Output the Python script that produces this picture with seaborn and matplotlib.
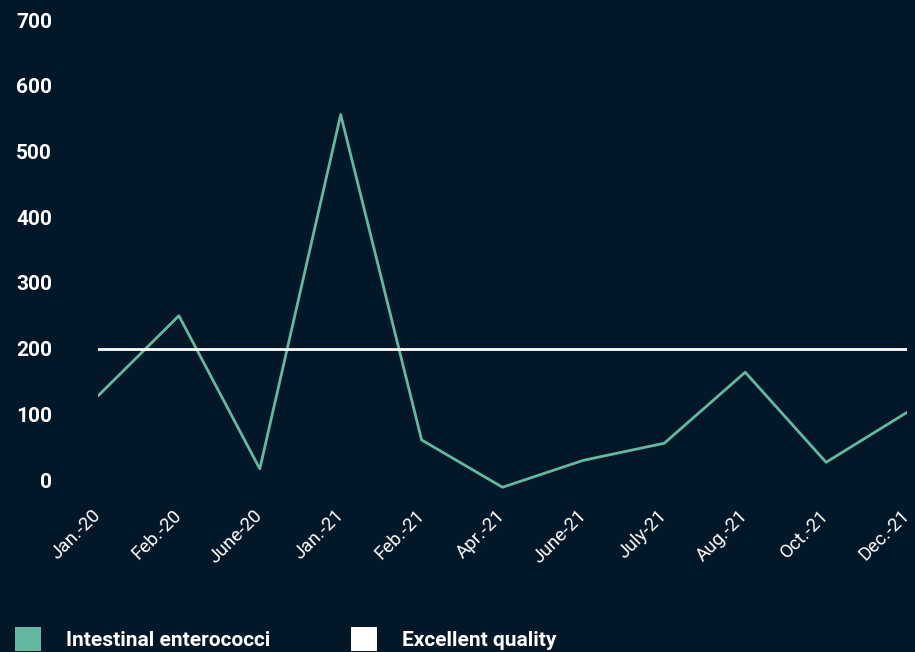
import matplotlib
matplotlib.use("Agg")
import matplotlib.pyplot as plt
import seaborn as sns
import pandas as pd
from matplotlib.patches import Patch
from matplotlib import font_manager

months = ["Jan.-20", "Feb.-20", "June-20", "Jan.-21", "Feb.-21", "Apr.-21",
          "June-21", "July-21", "Aug.-21", "Oct.-21", "Dec.-21"]
enterococci = [128, 250, 17, 556, 61, -11, 30, 56, 164, 27, 103]
excellent_quality = [200] * len(months)
yticks = [0, 100, 200, 300, 400, 500, 600, 700]

BG = "#021727"
TEAL = "#63b8a0"
WHITE = "#ffffff"

sns.set_theme(style="dark")
names = {f.name for f in font_manager.fontManager.ttflist}
fam = ["Liberation Sans Narrow", "DejaVu Sans"] if "Liberation Sans Narrow" in names else ["Roboto", "DejaVu Sans"]
plt.rcParams["font.family"] = fam

df = pd.DataFrame({"month": months, "x": range(len(months)),
                   "Intestinal enterococci": enterococci,
                   "Excellent quality": excellent_quality})

fig = plt.figure(figsize=(9.15, 6.52), dpi=100, facecolor=BG)
ax = fig.add_axes([98/915, 0.2436, 809/915, 0.7257])
ax.set_facecolor(BG)

sns.lineplot(data=df, x="x", y="Intestinal enterococci", color=TEAL, lw=2, ax=ax)
sns.lineplot(data=df, x="x", y="Excellent quality", color=WHITE, lw=2, ax=ax)

ax.set_xlim(0, len(months) - 1)
ax.set_ylim(-20, 700)
ax.set_yticks(yticks)
ax.set_yticklabels([str(v) for v in yticks], fontsize=15, fontweight="bold", color=WHITE)
ax.set_xticks(range(len(months)))
ax.set_xticklabels(months, rotation=45, ha="right", va="center", rotation_mode="anchor",
                   fontsize=13.5, color=WHITE)
ax.tick_params(axis="y", length=0, pad=33)
ax.tick_params(axis="x", length=0, pad=14)
ax.set_xlabel("")
ax.set_ylabel("")
ax.grid(False)
for s in ax.spines.values():
    s.set_visible(False)

handles = [Patch(facecolor=TEAL, edgecolor="none", label="Intestinal enterococci"),
           Patch(facecolor=WHITE, edgecolor="none", label="Excellent quality")]
leg = fig.legend(handles=handles, loc="lower left", bbox_to_anchor=(0.007, -0.012),
                 ncol=2, frameon=False, handlelength=1.25, handleheight=1.45,
                 handletextpad=1.2, columnspacing=3.9, borderaxespad=0,
                 prop={"family": fam, "weight": "bold", "size": 15})
for t in leg.get_texts():
    t.set_color(WHITE)

fig.savefig("out.png", dpi=100, facecolor=BG)
